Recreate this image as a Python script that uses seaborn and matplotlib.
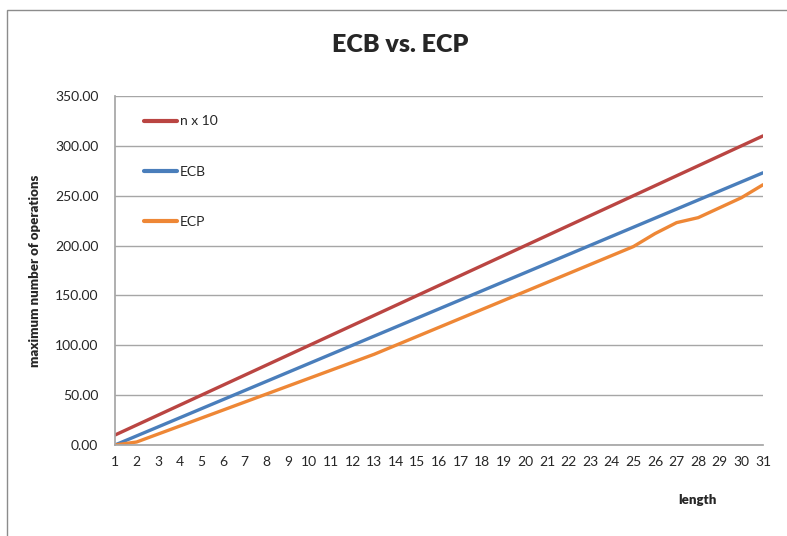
import pandas as pd
import matplotlib
matplotlib.use("Agg")
import matplotlib.pyplot as plt
import seaborn as sns
from matplotlib.patches import Rectangle

# Data
length = list(range(1, 32))
n_x_10 = [10, 20, 30, 40, 50, 60, 70, 80, 90, 100, 110, 120, 130, 140, 150, 160,
          170, 180, 190, 200, 210, 220, 230, 240, 250, 260, 270, 280, 290, 300, 310]
ecb = [0, 9.1, 18.2, 27.3, 36.4, 45.5, 54.6, 63.7, 72.8, 81.9, 91.0, 100.1,
       109.2, 118.3, 127.4, 136.5, 145.6, 154.7, 163.8, 172.9, 182.0, 191.1,
       200.2, 209.3, 218.4, 227.5, 236.6, 245.7, 254.8, 263.9, 273.0]
ecp = [0, 3, 11, 19, 27, 35, 43, 51, 59, 67, 75, 83, 91, 100, 109, 118,
       127, 136, 145, 154, 163, 172, 181, 190, 199, 212, 223, 228, 238, 248, 261]
series_names = ["n x 10", "ECB", "ECP"]
colors = ["#BA4542", "#4A7EBB", "#EE8736"]

df = pd.DataFrame({"length": length * 3,
                   "ops": n_x_10 + ecb + ecp,
                   "series": [s for s in series_names for _ in length]})

sns.set_theme(style="white")
plt.rcParams["font.family"] = ["Lato", "DejaVu Sans"]

fig = plt.figure(figsize=(7.87, 5.36), dpi=100)
ax = fig.add_axes([115 / 787, 1 - 445 / 536, 648 / 787, 349 / 536])

# chart frame
fig.patches.append(Rectangle((7 / 787, -0.01), 1.0, 1 - 10 / 536 + 0.01,
                             transform=fig.transFigure, fill=False,
                             edgecolor="#8C8C8C", linewidth=1))

sns.lineplot(data=df, x="length", y="ops", hue="series", hue_order=series_names,
             palette=colors, linewidth=2.4, ax=ax)

ax.set_xlim(1, 31)
ax.set_ylim(0, 350)
ax.set_xticks(length)
ax.set_xticklabels([str(v) for v in length], fontsize=10)
ax.set_yticks(range(0, 351, 50))
ax.set_yticklabels([f"{v:.2f}" for v in range(0, 351, 50)], fontsize=10)
ax.tick_params(axis="both", length=0, pad=8)
ax.tick_params(axis="y", pad=12)
ax.yaxis.grid(True, color="#A6A6A6", linewidth=1)
ax.set_axisbelow(True)
for side in ["top", "right"]:
    ax.spines[side].set_visible(False)
ax.spines["left"].set_color("#A6A6A6")
ax.spines["bottom"].set_color("#A6A6A6")

ax.set_xlabel("")
ax.set_ylabel("maximum number of operations", fontsize=9.5, fontweight="heavy", labelpad=10)
fig.text(697 / 787, 1 - 500 / 536, "length", fontsize=9.5, fontweight="heavy",
         ha="center", va="center")
fig.text(400 / 787, 1 - 45 / 536, "ECB vs. ECP", fontsize=18, fontweight="heavy",
         ha="center", va="center")

leg = ax.legend(loc="upper left", bbox_to_anchor=(0.025, 0.98), frameon=False,
                fontsize=10, handlelength=2.4, handletextpad=0.2,
                labelspacing=2.75)
for line in leg.get_lines():
    line.set_linewidth(3)

fig.savefig("out.png", dpi=100)
